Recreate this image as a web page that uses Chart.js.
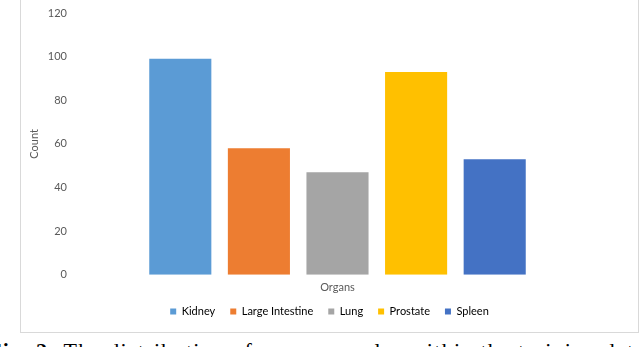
<!DOCTYPE html>
<html>
<head>
<meta charset="utf-8">
<script src="https://cdn.jsdelivr.net/npm/chart.js@4"></script>
<style>
  html, body { margin: 0; padding: 0; background: #ffffff; overflow: hidden; }
  body { width: 640px; height: 347px; position: relative; }
  #frame {
    position: absolute; left: 20px; top: -1px;
    width: 617px; height: 332px; overflow: hidden;
    border: 1px solid #d9d9d9; background: #ffffff;
  }
  #frame canvas { display: block; }
  #caption {
    position: absolute; left: -12px; top: 340px;
    font-family: "Liberation Serif", "DejaVu Serif", serif;
    font-size: 22px; line-height: 22px; color: #000; white-space: nowrap; letter-spacing: 1.3px;
  }
</style>
</head>
<body>
<div id="frame"><canvas id="organChart" width="617" height="327"></canvas></div>
<div id="caption"><b>Fig. 2:</b> The distribution of organ samples within the training data</div>
<script>
// organ counts
const organs = ['Kidney', 'Large Intestine', 'Lung', 'Prostate', 'Spleen'];
const counts = [99, 58, 47, 93, 53];
const organColors = ['#5b9bd5', '#ed7d31', '#a5a5a5', '#ffc000', '#4472c4'];
const yTicks = [0, 20, 40, 60, 80, 100, 120];

const textColor = '#595959';
const baseFont = { family: 'Lato, "Open Sans", sans-serif', size: 11 };

// empty axes used only to hold space around the plot
function spacerAxis(position, width, weight) {
    return {
        position: position,
        weight: weight,
        grid: { display: false, drawTicks: false },
        border: { display: false },
        ticks: { display: false },
        afterFit: axis => { axis.width = width; }
    };
}

function renderOrganChart() {
    const canvas = document.getElementById('organChart');
    if (!canvas) return;

    const ctx = canvas.getContext('2d');
    new Chart(ctx, {
        type: 'bar',
        data: {
            labels: organs,
            datasets: [{
                data: counts,
                backgroundColor: organColors,
                borderWidth: 0,
                categoryPercentage: 0.79,
                barPercentage: 1
            }]
        },
        options: {
            responsive: false,
            animation: false,
            layout: { padding: { top: 13, right: 0, bottom: 0, left: 0 } },
            plugins: {
                tooltip: { enabled: false },
                legend: {
                    position: 'bottom',
                    labels: {
                        color: textColor,
                        font: baseFont,
                        boxWidth: 6,
                        boxHeight: 6,
                        padding: 15,
                        generateLabels: chart => chart.data.labels.map((label, i) => ({
                            text: label,
                            fillStyle: organColors[i],
                            strokeStyle: organColors[i],
                            lineWidth: 0,
                            index: i
                        }))
                    }
                }
            },
            scales: {
                x: {
                    grid: { display: false, drawTicks: false },
                    border: { display: false },
                    ticks: { display: false },
                    title: {
                        display: true,
                        text: 'Organs',
                        color: textColor,
                        font: baseFont,
                        padding: { top: 6, bottom: -3 }
                    }
                },
                y: {
                    min: 0,
                    max: 120,
                    weight: 1,
                    grid: { display: false, drawTicks: false },
                    border: { display: false },
                    afterBuildTicks: axis => { axis.ticks = yTicks.map(v => ({ value: v })); },
                    ticks: { color: textColor, font: baseFont, padding: 5 },
                    title: {
                        display: true,
                        text: 'Count',
                        color: textColor,
                        font: baseFont,
                        padding: { top: 7, bottom: 0 }
                    },
                    afterFit: axis => { axis.width = 51; }
                },
                gapLeft: spacerAxis('left', 69, 0),
                gapRight: spacerAxis('right', 104, 0)
            }
        }
    });
}

renderOrganChart();
</script>
</body>
</html>
